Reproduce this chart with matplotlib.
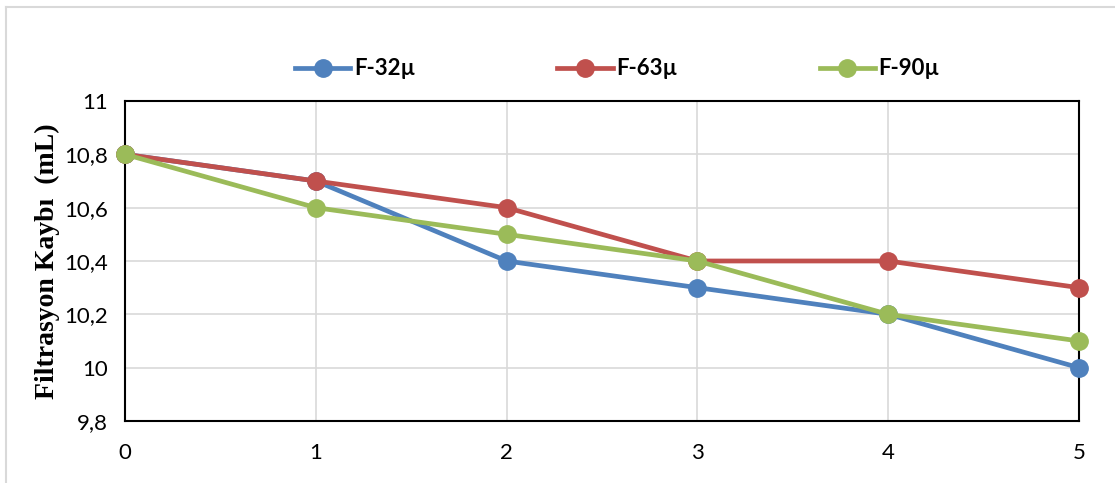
import matplotlib.pyplot as plt
import numpy as np
from matplotlib.lines import Line2D
from matplotlib.ticker import FuncFormatter

x = [0, 1, 2, 3, 4, 5]
f32 = [10.8, 10.7, 10.4, 10.3, 10.2, 10.0]
f63 = [10.8, 10.7, 10.6, 10.4, 10.4, 10.3]
f90 = [10.8, 10.6, 10.5, 10.4, 10.2, 10.1]
labels = ['F-32µ', 'F-63µ', 'F-90µ']
colors = ['#4F81BD', '#C0504D', '#9BBB59']

fig = plt.figure(figsize=(11.15, 4.83), dpi=100)
ax = fig.add_axes([0.1121, 0.1284, 0.8556, 0.6625])

for y, lab, c in zip([f32, f63, f90], labels, colors):
    ax.plot(x, y, '-o', color=c, lw=3.4, markersize=12.5, label=lab, clip_on=False, zorder=3)

ax.set_xlim(0, 5)
ax.set_ylim(9.8, 11)
ax.set_yticks(np.arange(9.8, 11.01, 0.2))
ax.set_xticks(x)


def comma(v, pos):
    s = ('%.1f' % v).rstrip('0').rstrip('.')
    return s.replace('.', ',')


ax.yaxis.set_major_formatter(FuncFormatter(comma))
ax.grid(True, color='#D9D9D9', lw=1.2, zorder=0)
ax.set_axisbelow(True)
for sp in ax.spines.values():
    sp.set_color('black')
    sp.set_linewidth(1.5)
ax.tick_params(axis='x', length=0, labelsize=16, pad=16)
ax.tick_params(axis='y', length=0, labelsize=16, pad=12)
for t in ax.get_xticklabels() + ax.get_yticklabels():
    t.set_fontfamily('Lato')

ax.set_ylabel('Filtrasyon Kaybı  (mL)', fontfamily='Liberation Serif',
              fontweight='bold', fontsize=20, labelpad=3)

ax.legend(loc='center', bbox_to_anchor=(0.516, 1.10), ncol=3, frameon=False,
          columnspacing=6.4, handlelength=2.5, handletextpad=0.15,
          prop={'family': 'Lato', 'weight': 'bold', 'size': 16})

# light outer frame
fig.add_artist(Line2D([0.0055, 0.0055], [0, 0.986], color='#D9D9D9', lw=1.5))
fig.add_artist(Line2D([0.0055, 1], [0.986, 0.986], color='#D9D9D9', lw=1.5))

fig.savefig('out.png', dpi=100)
